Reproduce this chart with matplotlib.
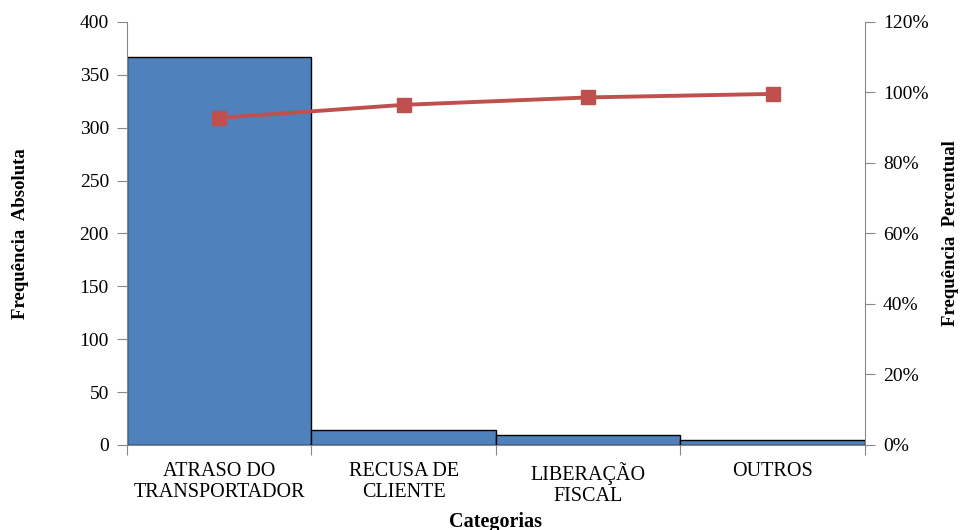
import matplotlib
matplotlib.use("Agg")
import matplotlib.pyplot as plt
from matplotlib.ticker import FuncFormatter, FixedLocator
import numpy as np

categories = ["ATRASO DO\nTRANSPORTADOR", "RECUSA DE\nCLIENTE", "LIBERAÇÃO\nFISCAL", "OUTROS"]
freq_abs = [367, 14, 9, 5]
freq_pct = [92.8, 96.5, 98.6, 99.6]

plt.rcParams['font.family'] = ['Liberation Serif', 'DejaVu Serif']

fig = plt.figure(figsize=(9.6, 5.3), dpi=100)
ax = fig.add_axes([0.1323, 0.1604, 0.901 - 0.1323, 0.9585 - 0.1604])
x = np.arange(len(categories))
ax.bar(x, freq_abs, width=1.0, color='#4F81BD', edgecolor='black', linewidth=1.0, zorder=2)
ax.set_xlim(-0.5, len(categories) - 0.5)
ax.set_ylim(0, 400)
ax.set_yticks(range(0, 401, 50))
ax.xaxis.set_major_locator(FixedLocator(np.arange(-0.5, len(categories), 1.0)))
ax.xaxis.set_major_formatter(FuncFormatter(lambda v, p: ""))
ax.xaxis.set_minor_locator(FixedLocator(x))
ax.set_xticklabels(categories, minor=True)
ax.tick_params(axis='x', which='minor', length=0, labelsize=14.5, pad=12)
ax.tick_params(axis='x', which='major', length=7, color='#888888', direction='out')
ax.tick_params(axis='y', length=7, color='#888888', labelsize=14, pad=6)
for lab in ax.get_xticklabels(minor=True):
    lab.set_linespacing(1.2)
for s in ['top', 'right']:
    ax.spines[s].set_visible(False)
for s in ['left', 'bottom']:
    ax.spines[s].set_color('#888888')
ax.set_ylabel("Frequência  Absoluta", fontsize=13.5, fontweight='bold', labelpad=0)
ax.yaxis.set_label_coords(-0.133, 0.5)
ax.set_xlabel("Categorias", fontsize=14.5, fontweight='bold')
ax.xaxis.set_label_coords(0.5, -0.158)

ax2 = ax.twinx()
ax2.plot(x, freq_pct, color='#C0504D', linewidth=2.8, marker='s', markersize=10, zorder=3)
ax2.set_ylim(0, 120)
ax2.set_yticks(range(0, 121, 20))
ax2.yaxis.set_major_formatter(FuncFormatter(lambda v, p: f"{int(v)}%"))
ax2.tick_params(axis='y', length=7, color='#888888', labelsize=14, pad=6)
for s in ['top', 'left', 'bottom']:
    ax2.spines[s].set_visible(False)
ax2.spines['right'].set_color('#888888')
ax2.set_ylabel("Frequência  Percentual", fontsize=13.5, fontweight='bold')
ax2.yaxis.set_label_coords(1.104, 0.5)

fig.savefig("out.png", dpi=100)
